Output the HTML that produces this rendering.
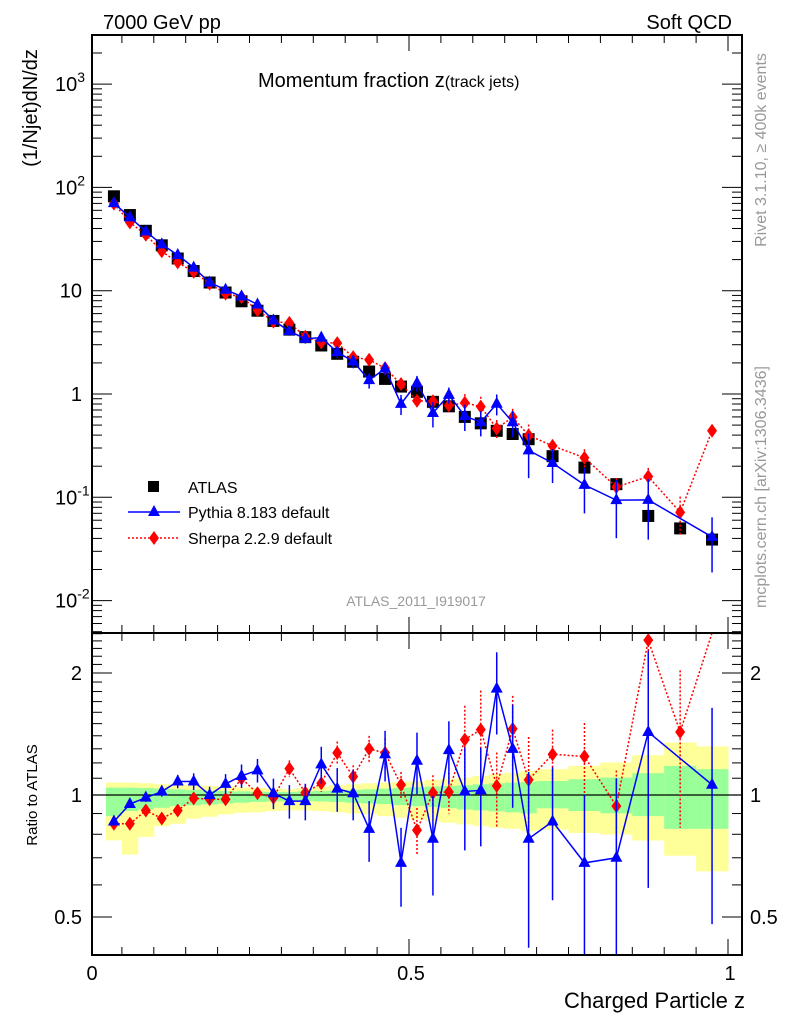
<!DOCTYPE html>
<html><head><meta charset="utf-8"><style>
body{margin:0;background:#fff}
svg{font-family:"Liberation Sans",sans-serif}
</style></head><body>
<svg id="c" width="786" height="1024" xmlns="http://www.w3.org/2000/svg">
<text x="103" y="29" font-size="20">7000 GeV pp</text>
<text x="732" y="29" font-size="20" text-anchor="end">Soft QCD</text>
<text x="258" y="87" font-size="20">Momentum fraction z<tspan font-size="16">(track jets)</tspan></text>
<text transform="translate(37,108) rotate(-90)" font-size="20" text-anchor="middle">(1/Njet)dN/dz</text>
<text transform="translate(37,795) rotate(-90)" font-size="15" text-anchor="middle">Ratio to ATLAS</text>
<text transform="translate(766,150) rotate(-90)" font-size="16" fill="#999" text-anchor="middle">Rivet 3.1.10, ≥ 400k events</text>
<text transform="translate(766,487) rotate(-90)" font-size="16" fill="#999" text-anchor="middle">mcplots.cern.ch [arXiv:1306.3436]</text>
<text x="416" y="606" font-size="14" fill="#999" text-anchor="middle">ATLAS_2011_I919017</text>
<text x="745" y="1008" font-size="22" text-anchor="end">Charged Particle z</text>
<g id="bands"></g><g id="marks"></g><g id="axes"></g>
<g>
<rect x="148" y="481" width="11" height="11" fill="#000"/>
<text x="188" y="493" font-size="16">ATLAS</text>
<line x1="128" y1="512" x2="180" y2="512" stroke="#00f" stroke-width="1.5"/>
<polygon points="154,505 148,516 160,516" fill="#00f"/>
<text x="188" y="518" font-size="16">Pythia 8.183 default</text>
<line x1="128" y1="538" x2="180" y2="538" stroke="#f00" stroke-width="1.5" stroke-dasharray="2,2"/>
<polygon points="154,531 159,538 154,545 149,538" fill="#f00"/>
<text x="188" y="544" font-size="16">Sherpa 2.2.9 default</text>
</g>
</svg>
<script>
const zCenters=[0.0375,0.0625,0.0875,0.1125,0.1375,0.1625,0.1875,0.2125,0.2375,0.2625,0.2875,0.3125,0.3375,0.3625,0.3875,0.4125,0.4375,0.4625,0.4875,0.5125,0.5375,0.5625,0.5875,0.6125,0.6375,0.6625,0.6875,0.725,0.775,0.825,0.875,0.925,0.975];
const zHalfWidth=[0.0125,0.0125,0.0125,0.0125,0.0125,0.0125,0.0125,0.0125,0.0125,0.0125,0.0125,0.0125,0.0125,0.0125,0.0125,0.0125,0.0125,0.0125,0.0125,0.0125,0.0125,0.0125,0.0125,0.0125,0.0125,0.0125,0.0125,0.025,0.025,0.025,0.025,0.025,0.025];
const atlasValues=[82,54,38,27.5,20.5,15.5,12,9.6,7.9,6.4,5.1,4.2,3.55,2.95,2.45,2.05,1.65,1.4,1.18,1.05,0.84,0.76,0.60,0.52,0.44,0.41,0.365,0.25,0.194,0.134,0.066,0.05,0.039];
const pythiaRatio=[0.86,0.95,0.985,1.02,1.08,1.08,1.0,1.065,1.115,1.15,1.01,0.966,0.966,1.19,1.037,1.01,0.825,1.26,0.68,1.215,0.78,1.29,1.02,1.027,1.83,1.30,0.78,0.86,0.68,0.70,1.43,null,1.06];
const pythiaRatioErr=[0.016,0.018,0.023,0.029,0.041,0.051,0.048,0.061,0.074,0.077,0.087,0.092,0.10,0.125,0.128,0.144,0.141,0.18,0.15,0.21,0.215,0.23,0.29,0.28,0.42,0.37,0.36,0.31,0.32,0.40,0.84,null,0.58];
const sherpaRatio=[0.849,0.849,0.916,0.875,0.916,0.981,0.976,0.976,1.098,1.01,0.985,1.162,1.013,1.069,1.27,1.11,1.30,1.27,1.059,0.819,1.013,1.017,1.37,1.45,1.053,1.456,1.09,1.26,1.245,0.939,2.41,1.43,11.3];
const sherpaRatioErr=[0.013,0.013,0.014,0.013,0.014,0.015,0.015,0.015,0.017,0.029,0.038,0.055,0.048,0.051,0.085,0.074,0.099,0.109,0.081,0.11,0.106,0.117,0.29,0.36,0.22,0.30,0.30,0.19,0.26,0.21,0.50,0.60,1.0];
const yellowHi=[1.073,1.073,1.069,1.063,1.059,1.057,1.053,1.049,1.045,1.041,1.037,1.033,1.041,1.049,1.057,1.063,1.069,1.073,1.077,1.081,1.09,1.098,1.104,1.115,1.125,1.136,1.147,1.158,1.18,1.203,1.254,1.348,1.318];
const yellowLo=[0.773,0.713,0.788,0.838,0.849,0.874,0.884,0.896,0.904,0.907,0.913,0.916,0.916,0.913,0.907,0.900,0.896,0.887,0.879,0.870,0.862,0.854,0.846,0.838,0.830,0.825,0.814,0.822,0.806,0.799,0.772,0.708,0.648];
const greenHi=[1.043,1.043,1.041,1.037,1.033,1.029,1.025,1.023,1.021,1.019,1.017,1.017,1.021,1.023,1.025,1.029,1.033,1.037,1.041,1.045,1.049,1.053,1.057,1.063,1.069,1.073,1.077,1.083,1.094,1.104,1.132,1.18,1.158];
const greenLo=[0.887,0.913,0.921,0.930,0.939,0.943,0.948,0.953,0.957,0.961,0.964,0.966,0.966,0.964,0.961,0.957,0.953,0.950,0.944,0.939,0.934,0.928,0.921,0.916,0.911,0.906,0.901,0.927,0.913,0.901,0.887,0.825,0.825];
const mainTickLabels=["10","10","10","1","10","10"];
const mainTickExp=[3,2,1,0,-1,-2];
const ratioTicks=[0.5,1,2];
const xTicks=[0,0.5,1];

const NS="http://www.w3.org/2000/svg";
const L=92,R=742,T=35,MB=633,B=955;
const X=z=>90+z*638;
const Y=v=>394-Math.log10(v)*103.3;
const RY=r=>795-Math.log2(r)*122;
const clipR=y=>Math.max(MB,Math.min(B,y));
const clipM=y=>Math.max(T,Math.min(MB,y));
function mk(tag,attrs,parent){const e=document.createElementNS(NS,tag);for(const k in attrs)e.setAttribute(k,attrs[k]);parent.appendChild(e);return e;}
const bands=document.getElementById('bands'),marks=document.getElementById('marks'),axes=document.getElementById('axes');

zCenters.forEach((z,i)=>{
  const x0=X(z-zHalfWidth[i]),x1=X(z+zHalfWidth[i]);
  let e=mk('rect',{x:x0,y:RY(yellowHi[i]),width:x1-x0+0.5,height:RY(yellowLo[i])-RY(yellowHi[i]),fill:'#ffff99'},bands);
  
  
  e=mk('rect',{x:x0,y:RY(greenHi[i]),width:x1-x0+0.5,height:RY(greenLo[i])-RY(greenHi[i]),fill:'#99ff99'},bands);
  
  
});
let ul=mk('line',{x1:L,x2:R,y1:RY(1),y2:RY(1),stroke:'#000','stroke-width':1.3},bands);



function series(ratio,err,color,dash,shape,isMain,name){
  const yf=isMain?(i,r)=>Y(r*atlasValues[i]):(i,r)=>RY(r);
  const clip=isMain?clipM:clipR;
  const top=isMain?T:MB, bot=isMain?MB:B;
  let pts=[];
  ratio.forEach((r,i)=>{if(r==null)return;pts.push(X(zCenters[i])+','+clip(yf(i,r)));});
  let pl=mk('polyline',{points:pts.join(' '),fill:'none',stroke:color,'stroke-width':1.5,'stroke-dasharray':dash},marks);
  
  
  ratio.forEach((r,i)=>{
    if(r==null)return;
    const x=X(zCenters[i]);
    const lo=Math.max(r-err[i],0.001),hi=r+err[i];
    const y1=clip(yf(i,hi)),y2=clip(yf(i,lo));
    let eb=mk('line',{x1:x,x2:x,y1:y1,y2:y2,stroke:color,'stroke-width':1.5,'stroke-dasharray':dash},marks);
    
    
    const y=yf(i,r);
    if(y<top||y>bot)return;
    let m;
    if(shape==='tri')m=mk('polygon',{points:`${x},${y-7} ${x-6},${y+4} ${x+6},${y+4}`,fill:color},marks);
    else m=mk('polygon',{points:`${x},${y-7} ${x+5},${y} ${x},${y+7} ${x-5},${y}`,fill:color},marks);
    
    
  });
}
atlasValues.forEach((v,i)=>{
  const r=mk('rect',{x:X(zCenters[i])-6,y:Y(v)-6,width:12,height:12,fill:'#000'},marks);
  
  
});
series(sherpaRatio,sherpaRatioErr,'#f00','2,2','dia',true,'sherpa');
series(pythiaRatio,pythiaRatioErr,'#00f','','tri',true,'pythia');
series(sherpaRatio,sherpaRatioErr,'#f00','2,2','dia',false,'sherpa-ratio');
series(pythiaRatio,pythiaRatioErr,'#00f','','tri',false,'pythia-ratio');

[[T,MB],[MB,B]].forEach(([a,b],k)=>{
  const f=mk('rect',{x:L,y:a,width:R-L,height:b-a,fill:'none',stroke:'#000','stroke-width':2},axes);
  
  
  for(let z=0;z<=1.001;z+=0.05){
    const big=Math.abs(z*2-Math.round(z*2))<1e-6, len=big?16:8, x=X(z);
    if(x<L)continue;
    mk('line',{x1:x,x2:x,y1:b,y2:b-len,stroke:'#000','stroke-width':1},axes);
    mk('line',{x1:x,x2:x,y1:a,y2:a+len,stroke:'#000','stroke-width':1},axes);
  }
});
for(let d=-3;d<=3;d++){for(let m=1;m<10;m++){
  const y=Y(m*Math.pow(10,d)); if(y<T||y>MB)continue;
  const len=m===1?20:10;
  mk('line',{x1:L,x2:L+len,y1:y,y2:y,stroke:'#000'},axes);
  mk('line',{x1:R,x2:R-len,y1:y,y2:y,stroke:'#000'},axes);
}}
mainTickExp.forEach((e,i)=>{
  const y=Y(Math.pow(10,e));
  const t=mk('text',{x:e===0?82:(e===1?82:55),y:y+7,'font-size':20,'text-anchor':e<=1&&e>=0?'end':'start'},axes);
  t.textContent=mainTickLabels[i];
  if(e!==0&&e!==1){const s=mk('tspan',{dy:-9,'font-size':14},t);s.textContent=String(e);}
  
  
});
for(let r=0.4;r<=2.5;r=+(r+0.1).toFixed(1)){
  const y=RY(r); if(y<MB||y>B)continue;
  const big=ratioTicks.includes(r), len=big?20:10;
  mk('line',{x1:L,x2:L+len,y1:y,y2:y,stroke:'#000'},axes);
  mk('line',{x1:R,x2:R-len,y1:y,y2:y,stroke:'#000'},axes);
}
ratioTicks.forEach(r=>{
  const y=RY(r)+7;
  let t=mk('text',{x:82,y:y,'font-size':20,'text-anchor':'end'},axes);t.textContent=String(r);
  
  
  t=mk('text',{x:750,y:y,'font-size':20},axes);t.textContent=String(r);
  
  
});
xTicks.forEach(z=>{
  const t=mk('text',{x:X(z)+2,y:980,'font-size':20,'text-anchor':'middle'},axes);
  t.textContent=String(z);
  
  
});
</script>
</body></html>
